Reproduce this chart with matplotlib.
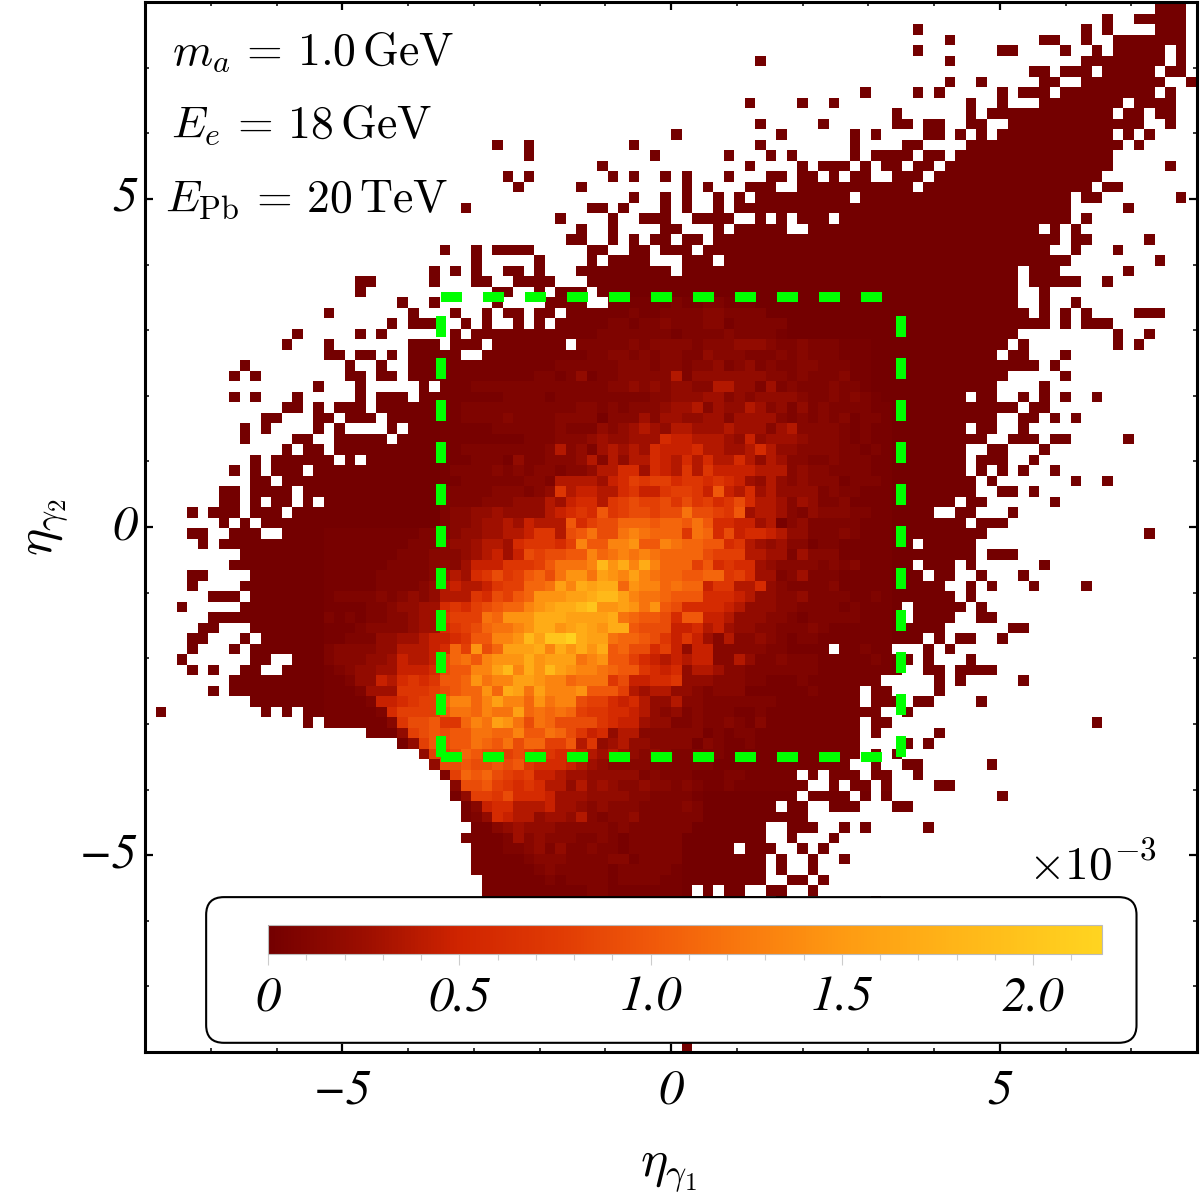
import numpy as np
import matplotlib
matplotlib.use('Agg')
import matplotlib.pyplot as plt
from matplotlib.colors import LinearSegmentedColormap, Normalize
from matplotlib.patches import FancyBboxPatch

plt.rcParams['mathtext.fontset'] = 'cm'

# occupied bins, one string per row from the top, columns counted from the left
filled_cells = [
 "95-97", "90 93-97", "72 88 90 95-97", "75 84 85 88 91-97", "72 80 81 86 89 91-95 97",
 "57 75 88-95 97", "83 84 86-88 90-94 96 97", "75 78 84 85 88-95 98",
 "67 72 74 80 82-84 86-94 96", "56 61 64 77 80 84-91 93-96", "70 77 79-90 92 93 95 96",
 "57 63 70 71 73 74 77 78 81-93 96", "49 59 66 68 73 74 76 78 80-90 92 94",
 "32 35 45 57 66 71 72 77-91 93", "35 47 54 58 60 66 68-71 73 74 76-90",
 "42 56 61 63-65 67 69 70 72 73 75-90 96", "33 35 43 45 48 50 54 58 59 61 62 64 66 67 70-72 74-89",
 "34 40 50 52 56-58 61-71 73-88 90 91", "45 48 50 53 55 57-65 67-86 88 89 97",
 "29 41 42 44 48 50 53 55-86 92", "38 43 46-48 51-54 57 59 61-63 65-86 88",
 "40 43 48 49 53 55-59 62-83 85 87", "39 40 43 45 47 48 50 51 53-85 87 88 94",
 "27 30 32-35 41 42 45 46 48 49 50 52-84 87 91", "30 36 41 43-46 50-52 54-86 95",
 "26 28 30 33 34 36 40-48 50-81 83-85 92", "19 20 26 30 31 34-37 41-81 83-87 90",
 "19 32 33 36 38-40 42-81 84", "23 26 32 37-40 43-81 84 87",
 "16 24 28 31 33 34 36 37 39-82 84 86 88 93-95", "22 24-26 29 31 34 36 38-84 86 88-90",
 "13 19 21 28 30-81 91 94", "12 16 24-26 28-30 32-38 40-80 82 91 93",
 "16 17 19 20 22 24-28 31-79 81 82 86", "8 18 21 24-83 85", "7 9 18 19 21 22 24-80 86",
 "15 19 25 27-79 84", "7 9 13 19 21-23 25-76 78 79 82 84 86 89", "12 13 15 17-19 21-81 83 84",
 "10 11 15 16 18-20 22-79 82 83 85 87", "8 10 15 17 22 24-76 78 79 82",
 "8 13 14 17-21 23-78 81-83 85 86 92", "12 14 15 17-76 79 80 84", "9 11-16 18 20-76 78-80 83",
 "7 9 11-13 15-76 78 80 82 85", "9 10 12-77 79 87 90", "6 7 9-12 14-77 80 81 83",
 "6 7 9 11 12 14 16-75 77 78 85", "3 5-7 9-11 13-73 76 77 81", "6 8 10-76 78-80",
 "3 4 7-9 12-78 94", "4 6-71 73-77", "8-77 79-81", "7-71 73-75 77 84",
 "3 4 9-72 74 75 78 82", "3 8-74 77 79 83 88", "5-7 9-75 77", "2 8-70 72-76 78",
 "5-70 72-75 78 79", "4 5 9-74 81 82", "3 4 8 10-72 74 76 77 80", "3 7 9-63 65-69 73 75",
 "2 9 10 13-69 70 71 73 77", "3 5 8 9 12-70 73 74 76-79", "7-68 74 76 82", "5 7-66 68 69 74",
 "9-66 68-70 72 73 78", "0 10 12 14-68 71", "14 16-66 68 69 89", "20-66 68 74", "23-66 71 73",
 "25-66 68 70", "26-65 68 71 72 79", "27-60 62 64-66 68 69 72", "28-61 64 66 67 69 74 75",
 "28-60 62-65 67 69 80", "29-58 60 61 64-66 70 71", "29-61", "30-57 60-62 65 67 73",
 "29-57 60 64", "30-54 56-58 61 63", "30-57 59 62 65", "30-57 59 62", "31-57 60 61 63",
 "31-50 52 54 55 58 59 62", "31-57 59 68",
 "", "", "", "", "", "", "", "", "", "", "", "", "", "50",
]

# base 36 digit read for each bin, columns 27-48 | columns 49 onwards, starting at row 28
heat_first_row = 28
heat_first_col = 27
heat_rows = [
 "0000000000000000000000|10011000",
 "0000000000000000001001|111221111",
 "0000000000000000110112|11122011111",
 "0000000000000001111111|01111211110",
 "0000000000000111112122|2212223332112111000",
 "0000000000000011221212|2113222111212111000",
 "0000000000011111122212|2122312312112211100",
 "0000000001101301122222|5133333332212111200",
 "0001111111111111223232|3322553314121112110",
 "0000001111011111111122|33344232333321121210",
 "0011111111111221212223|445243354231312111100",
 "0011112111122220222424|433442444421212120110",
 "0000011111121113234543|554445444245222210100",
 "0000000011122234334447|665554363444322210100",
 "0011111111252314545476|667554457533222211010",
 "0001110311222352535576|575755753542211211100",
 "0111121212212235577476|585866665552322111100",
 "0011111122155554679899|788787643532322201110",
 "1111122212385665578668|9986b6574533331211000",
 "111122233354677589a99a|8a8978a75542431120000",
 "122334333356787b89aa9a|adaa98b45542132221100",
 "122344546555b79aacccbc|cbdb77664502311111000",
 "123344556885abdaadedcc|c8dc7a677653311121000",
 "2334554788879ebbeefbbe|dccbb7854342201100000",
 "22345646a9aabbecdededc|ccca99955441422200000",
 "3246668889bdddeifhehec|cc9b78774322221212000",
 "45478a89bcadffdgfegedc|cbbcc8974412411100000",
 "56556899ccdgehghhcfeec|dcc688557321111200000",
 "55587a9bcfffgghiigeddc|bbb777653322311110010",
 "7879abccefghhijffgfdfb|a77776533322111101000",
 "8999dcfffhhhgggghdcbba|7bb665333221011111000",
 "789acddefhhfghgfhhbaaa|667564332211121000000",
 "678bbeefigjjkhggdccba8|686425223210110000000",
 "7c9facggghehfhfhbcaa79|636622222110000000100",
 "acdbefffhfgggdefbb9765|656622531121110000010",
 "abbeegiehfigfeedcbb876|735542211111110000000",
 "bbcfdeeggfeecddd8a6677|833322211000100000000",
 "abccfchgdgeeefbbb95455|332122200000010000000",
 "ceecegeecfdeea99767533|522111111100000000000",
 "bddceddgcdcdc988776532|312111001000000000000",
 "88cedgfdadcaaaa8766433|112112102000000000000",
 "abbddccebbdca867355222|222010110000000000000",
 "abbdcbdacc99b583453322|220210010000000000000",
 "9acbaa9a98877654543232|111110000000000000000",
 "aabaabab87776543222211|111100000000000000000",
 "19cbca9896654433333121|110001100000000000000",
 "02aab98787553534322322|121001000000000000000",
 "003998a777644433332211|110",
 "0002677555644323222111|121",
 "0001376553443521223111|111",
 "0000023433322222121111|11",
 "0000001423222112101111|1",
 "0000001123131121101111|1",
 "0000000012221111220111|1",
 "0000000001211111011111|0",
 "0000000000101111011110|0",
 "0000000000000011000000|0",
]

# same digits for the columns 16-26 left of the dashed box, starting at row 50
heat_left_first_row = 50
heat_left_first_col = 16
heat_left_rows = [
 "00000000011", "00000000111", "00000001112", "00000011112", "00000111112", "00000111123",
 "01111212323", "00001123344", "10101122344", "00012222344", "00111334456", "12222335556",
 "12223346556", "01233446667", "00133657878", "00014448889", "00001667899", "00000179999",
 "00000028aab", "000000039ab", "0000000039b", "00000000039", "00000000003",
]

# bin height in units of 1e-3 for each digit
level_digits = "0123456789abcdefghijk"
level_values = [0.03, 0.07, 0.12, 0.19, 0.27, 0.36, 0.46, 0.58, 0.70, 0.80, 0.90, 1.00, 1.10,
                1.20, 1.32, 1.45, 1.58, 1.70, 1.85, 2.00, 2.15]

bin_width = 0.16
x_first_edge = -7.84
y_first_edge = 7.98
cbar_stops = [0, 0.25, 0.5, 0.75, 1.0, 1.25, 1.5, 1.8, 2.18]
cbar_colors = ['#740000', '#9c0e00', '#d02400', '#e03a04', '#f0580a', '#f97a0e',
               '#fe9a12', '#ffb518', '#ffd420']
cbar_ticks = [0, 0.5, 1.0, 1.5, 2.0]
cbar_labels = ['0', '0.5', '1.0', '1.5', '2.0']

grid = np.full((len(filled_cells), 99), np.nan)
for r, spans in enumerate(filled_cells):
    for part in spans.split():
        a, _, b = part.partition('-')
        grid[r, int(a):int(b or a) + 1] = 0.0


def put_levels(r, k, text):
    for j, ch in enumerate(text):
        if not np.isnan(grid[r, k + j]):
            grid[r, k + j] = level_values[level_digits.index(ch)]


for i, row in enumerate(heat_rows):
    left, right = row.split('|')
    put_levels(heat_first_row + i, heat_first_col, left + right)
for i, row in enumerate(heat_left_rows):
    put_levels(heat_left_first_row + i, heat_left_first_col, row)

W, H = 1200, 1204
fig = plt.figure(figsize=(W / 100, H / 100), dpi=100)
ax = fig.add_axes([145 / W, 1 - 1052 / H, 1052 / W, 1050 / H])

cmap = LinearSegmentedColormap.from_list(
    'heat', [(s / cbar_stops[-1], c) for s, c in zip(cbar_stops, cbar_colors)])
norm = Normalize(0, cbar_stops[-1])
xedges = x_first_edge + bin_width * np.arange(grid.shape[1] + 1)
yedges = y_first_edge - bin_width * np.arange(grid.shape[0] + 1)
mesh = ax.pcolormesh(xedges, yedges, np.ma.masked_invalid(grid), cmap=cmap, norm=norm,
                     antialiased=False, linewidth=0)
ax.set_xlim(-8, 8)
ax.set_ylim(-8, 8)

# signal region
for xs, ys in [([-3.5, 3.5], [3.5, 3.5]), ([-3.5, 3.5], [-3.5, -3.5]),
               ([-3.5, -3.5], [-3.5, 3.5]), ([3.5, 3.5], [-3.5, 3.5])]:
    ax.plot(xs, ys, color='#00ff00', lw=7.2, linestyle=(0, (2.1, 2.1)),
            dash_capstyle='butt', zorder=3)

for s in ax.spines.values():
    s.set_linewidth(2.2)
ax.set_xticks([-5, 0, 5])
ax.set_yticks([-5, 0, 5])
ax.set_xticks(np.arange(-7, 8), minor=True)
ax.set_yticks(np.arange(-7, 8), minor=True)
ax.tick_params(which='major', direction='in', length=6, width=1.6, top=True, right=True,
               labelsize=1)
ax.tick_params(which='minor', direction='in', length=3.2, width=1.1, top=True, right=True)
ax.set_xticklabels([])
ax.set_yticklabels([])

tick_font = dict(fontsize=36, family='STIXGeneral', style='italic')
for v, lab in zip([-5, 0, 5], ['\u22125', '0', '5']):
    ax.annotate(lab, (v, 0), xycoords=('data', 'axes fraction'), xytext=(0, -39),
                textcoords='offset pixels', ha='center', va='center', **tick_font)
    ax.annotate(lab, (0, v), xycoords=('axes fraction', 'data'), xytext=(-8, 0),
                textcoords='offset pixels', ha='right', va='center', **tick_font)

fig.text(668 / W, 1 - 1170 / H, r'$\eta_{\gamma_1}$', fontsize=37, ha='center', va='center')
fig.text(46 / W, 1 - 527 / H, r'$\eta_{\gamma_2}$', fontsize=37, ha='center', va='center',
         rotation=90)

for px, py, txt in [(172, 65, r'$m_a\,=\,1.0\,\mathrm{GeV}$'),
                    (171, 138, r'$E_e\,=\,18\,\mathrm{GeV}$'),
                    (165, 212, r'$E_{\mathrm{Pb}}\,=\,20\,\mathrm{TeV}$')]:
    fig.text(px / W, 1 - py / H, txt, fontsize=33, ha='left', va='baseline')

# legend box with the colour bar
box = FancyBboxPatch((-7.07, -7.86), 14.15, 2.22, boxstyle='round,pad=0,rounding_size=0.27',
                     fc='white', ec='black', lw=1.5, zorder=4)
ax.add_patch(box)
cax = fig.add_axes([268 / W, 1 - 953.5 / H, 834 / W, 28.5 / H], zorder=5)
cb = fig.colorbar(mesh, cax=cax, orientation='horizontal')
cb.set_ticks(cbar_ticks)
cb.set_ticklabels([])
cax.set_xticks(np.arange(0, 2.2, 0.1), minor=True)
cax.tick_params(which='major', length=8, width=0.8, color='#cccccc', bottom=True)
cax.tick_params(which='minor', length=4, width=0.8, color='#cccccc', bottom=True)
cb.outline.set_edgecolor('#bbbbbb')
cb.outline.set_linewidth(0.8)
for v, lab in zip(cbar_ticks, cbar_labels):
    fig.text((268 + 382.5 * v) / W, 1 - 998 / H, lab, ha='center', va='center', **tick_font)
fig.text(1092 / W, 1 - 866 / H, r'$\times 10^{-3}$', fontsize=34, ha='center', va='center')

fig.savefig('out.png', dpi=100)
